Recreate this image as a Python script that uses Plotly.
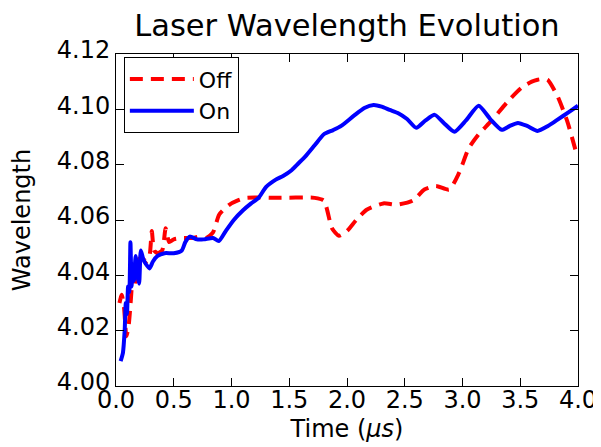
import plotly.graph_objects as go

# "Off" series (red dashed)
off_t = [0.03, 0.05, 0.07, 0.09, 0.11, 0.13, 0.145, 0.16, 0.18, 0.20, 0.23, 0.26, 0.29, 0.31, 0.33,
         0.36, 0.40, 0.43, 0.46, 0.50, 0.58, 0.66, 0.72, 0.78, 0.84, 0.894, 0.98, 1.05, 1.123, 1.40,
         1.72, 1.80, 1.87, 1.93, 2.00, 2.08, 2.17, 2.315, 2.43, 2.57, 2.67, 2.77, 2.885, 2.97, 3.055,
         3.14, 3.25, 3.395, 3.51, 3.60, 3.65, 3.70, 3.736, 3.82, 3.906, 3.99]
off_w = [4.030, 4.033, 4.028, 4.018, 4.022, 4.032, 4.040, 4.036, 4.044, 4.046, 4.046, 4.045, 4.047, 4.056, 4.049,
         4.048, 4.049, 4.057, 4.052, 4.053, 4.0535, 4.0535, 4.054, 4.0535, 4.0555, 4.062, 4.0655, 4.067, 4.068, 4.068,
         4.068, 4.067, 4.057, 4.0543, 4.056, 4.060, 4.0637, 4.066, 4.0655, 4.067, 4.071, 4.0723, 4.071, 4.077, 4.086,
         4.091, 4.0958, 4.103, 4.1078, 4.110, 4.1107, 4.111, 4.1107, 4.105, 4.0958, 4.0835]

# "On" series (blue solid)
on_t = [0.04, 0.06, 0.075, 0.085, 0.095, 0.105, 0.115, 0.125, 0.135, 0.145, 0.155, 0.17, 0.185, 0.20,
        0.215, 0.235, 0.26, 0.29, 0.32, 0.36, 0.42, 0.50, 0.57, 0.60, 0.64, 0.70, 0.76, 0.84, 0.89, 0.95,
        1.02, 1.10, 1.17, 1.234, 1.30, 1.38, 1.45, 1.52, 1.58, 1.64, 1.72, 1.80, 1.88, 1.95, 2.06, 2.15,
        2.23, 2.30, 2.37, 2.44, 2.52, 2.60, 2.68, 2.76, 2.84, 2.93, 3.03, 3.14, 3.24, 3.34, 3.41, 3.48,
        3.56, 3.65, 3.74, 3.82, 3.92, 4.00]
on_w = [4.009, 4.012, 4.020, 4.030, 4.026, 4.036, 4.034, 4.052, 4.036, 4.044, 4.038, 4.047, 4.040, 4.037,
        4.049, 4.046, 4.044, 4.0425, 4.045, 4.047, 4.048, 4.048, 4.049, 4.052, 4.054, 4.053, 4.053, 4.0535, 4.0524, 4.056,
        4.060, 4.0635, 4.066, 4.068, 4.072, 4.0745, 4.076, 4.078, 4.0805, 4.083, 4.087, 4.091, 4.0925, 4.094, 4.0977, 4.1005,
        4.1016, 4.101, 4.0998, 4.0987, 4.0965, 4.0933, 4.096, 4.098, 4.095, 4.0919, 4.096, 4.1013, 4.0965, 4.0926, 4.094, 4.0951,
        4.094, 4.0922, 4.094, 4.0962, 4.099, 4.1013]

x_ticks = [0.0, 0.5, 1.0, 1.5, 2.0, 2.5, 3.0, 3.5, 4.0]
y_ticks = [4.00, 4.02, 4.04, 4.06, 4.08, 4.10, 4.12]

FONT = "DejaVu Sans"

fig = go.Figure()
fig.add_trace(go.Scatter(x=off_t, y=off_w, mode="lines", name="Off", legendgroup="a",
                         line=dict(color="#ff0000", width=4, dash="13px,8px", shape="spline", smoothing=0.6)))
fig.add_trace(go.Scatter(x=on_t, y=on_w, mode="lines", name="On", legendgroup="b",
                         line=dict(color="#0000ff", width=4, shape="spline", smoothing=0.6)))

axis_common = dict(showgrid=False, zeroline=False, showline=True, linecolor="black", linewidth=1,
                   mirror="allticks", ticks="inside", ticklen=8, tickwidth=1, tickcolor="black",
                   tickfont=dict(family=FONT, size=24, color="black"))

fig.update_layout(
    width=601, height=447,
    margin=dict(l=108, r=23, t=46, b=69),
    paper_bgcolor="white", plot_bgcolor="white",
    font=dict(family=FONT, color="black"),
    title=dict(text="Laser Wavelength Evolution", font=dict(family=FONT, size=30.5, color="black"),
               x=0.5, xref="paper", xanchor="center", y=1 - 17 / 447, yref="container", yanchor="middle"),
    xaxis=dict(range=[0, 4], tickvals=x_ticks, ticktext=[f"{v:.1f}" for v in x_ticks],
               ticklabelstandoff=-8,
               title=dict(text="Time (<i>μs</i>)", font=dict(family=FONT, size=24, color="black"), standoff=7),
               **axis_common),
    yaxis=dict(range=[4.0, 4.12], tickvals=y_ticks, ticktext=[f"{v:.2f}" for v in y_ticks],
               ticklabelshift=-4,
               title=dict(text="Wavelength", font=dict(family=FONT, size=24, color="black"), standoff=20),
               **axis_common),
    legend=dict(x=0.017, y=0.99, xanchor="left", yanchor="top", bgcolor="white",
                bordercolor="black", borderwidth=1, font=dict(family=FONT, size=22, color="black"),
                tracegroupgap=0, itemwidth=64),
    showlegend=True,
)

fig.write_html("out.html")
